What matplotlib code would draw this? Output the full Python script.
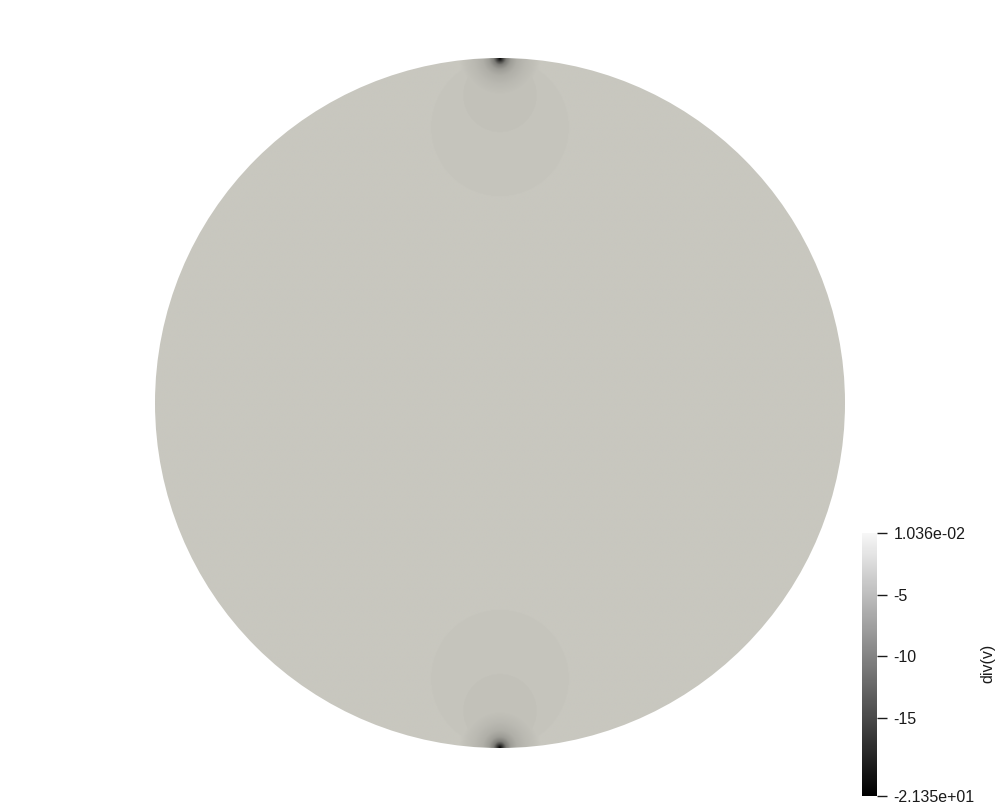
import numpy as np
import matplotlib
matplotlib.use("Agg")
import matplotlib.pyplot as plt
from matplotlib.colors import LinearSegmentedColormap, Normalize
from matplotlib.patches import Circle
from matplotlib.cm import ScalarMappable

# div(v) on the unit disk, sinks at the two poles
v_min = -21.35
v_max = 1.036e-02
pole_y = [1.0, -1.0]

# refinement zones: circles tangent to the pole (radius, value inside)
zone_radius = [0.20, 0.107]
zone_value = [-0.3, -0.65]

# core profile near each pole: distance from pole -> value
core_dist = [0.0, 0.008, 0.018, 0.032, 0.05, 0.075, 0.10, 0.12]
core_value = [-21.35, -15.0, -8.0, -4.5, -2.6, -1.5, -0.8, v_max]

tick_values = [v_max, -5, -10, -15, v_min]
tick_labels = ["1.036e-02", "-5", "-10", "-15", "-2.135e+01"]

plt.rcParams['font.family'] = ['Liberation Sans', 'DejaVu Sans']

W, H = 1001, 808
fig = plt.figure(figsize=(W / 100, H / 100), dpi=100)

# disk: centre (500, 403) px, radius 345 px
ax = fig.add_axes([155 / W, 1 - 748 / H, 690 / W, 690 / H])
ax.set_xlim(-1, 1)
ax.set_ylim(-1, 1)
ax.axis('off')

n = 900
xs = np.linspace(-1, 1, n)
X, Y = np.meshgrid(xs, xs)
field = np.full(X.shape, v_max)
for py in pole_y:
    s = np.sign(py)
    for r, val in zip(zone_radius, zone_value):
        inside = X**2 + (Y - s * (1 - r))**2 <= r**2
        field[inside] = np.minimum(field[inside], val)
    d = np.hypot(X, Y - py)
    field = np.minimum(field, np.interp(d, core_dist, core_value))

# lit surface colours (warm grey) for the disk
disk_cmap = LinearSegmentedColormap.from_list("lit", ["#000000", "#c8c7bf"])
norm = Normalize(vmin=v_min, vmax=v_max)
im = ax.imshow(field, extent=(-1, 1, -1, 1), origin='lower', cmap=disk_cmap,
               norm=norm, interpolation='bilinear')
clip = Circle((0, 0), 1.0, transform=ax.transData)
im.set_clip_path(clip)

# colour bar
cax = fig.add_axes([862 / W, 1 - 796 / H, 15 / W, 263 / H])
bar_cmap = LinearSegmentedColormap.from_list("bar", ["#000000", "#f7f7f7"])
cb = fig.colorbar(ScalarMappable(norm=norm, cmap=bar_cmap), cax=cax)
cb.outline.set_visible(False)
cb.set_ticks(tick_values)
cb.set_ticklabels(tick_labels)
cax.tick_params(axis='y', length=7, width=1.0, colors='#1a1a1a',
                labelsize=11.5, pad=5, direction='out')
fig.text(988 / W, 1 - 663 / H, "div(v)", rotation=90, ha='center', va='center',
         fontsize=11.5, color='#1a1a1a')

fig.savefig("out.png", dpi=100)
